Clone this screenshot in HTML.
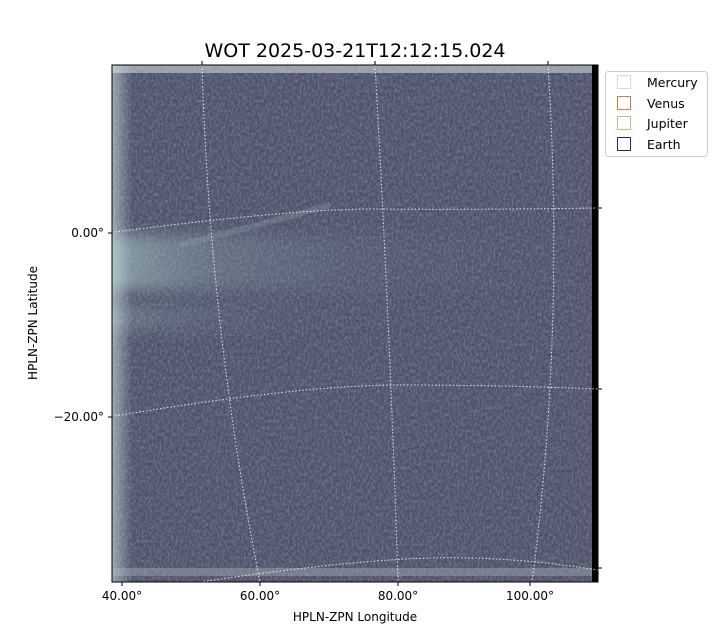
<!DOCTYPE html>
<html><head><style>
body{margin:0;background:#fff;}
svg{display:block;font-family:"DejaVu Sans","Liberation Sans",sans-serif;}
</style></head><body>
<svg width="720" height="640" viewBox="0 0 720 640">
<defs>
<clipPath id="c"><rect x="112" y="65" width="486" height="517"/></clipPath>
<filter id="n" x="0" y="0" width="100%" height="100%">
<feTurbulence type="fractalNoise" baseFrequency="0.5 0.3" numOctaves="3" seed="4" result="t"/>
<feColorMatrix in="t" type="matrix" values="0 0 0 0 0.18  0 0 0 0 0.19  0 0 0 0 0.27  0 0 0 -2.4 1.55"/>
</filter>
<filter id="b" x="-20%" y="-50%" width="140%" height="200%"><feGaussianBlur stdDeviation="7"/></filter>
<linearGradient id="h" x1="0" y1="0" x2="1" y2="0">
<stop offset="0" stop-color="#a8c4c4" stop-opacity="0.7"/>
<stop offset="0.2" stop-color="#8aa4ac" stop-opacity="0.4"/>
<stop offset="0.6" stop-color="#6a7890" stop-opacity="0.1"/>
<stop offset="1" stop-color="#6a7890" stop-opacity="0"/>
</linearGradient>
<linearGradient id="e" x1="0" y1="0" x2="1" y2="0">
<stop offset="0" stop-color="#c8dcdc" stop-opacity="0.6"/>
<stop offset="1" stop-color="#c8dcdc" stop-opacity="0"/>
</linearGradient>
</defs>
<text x="355" y="57" font-size="19" text-anchor="middle">WOT 2025-03-21T12:12:15.024</text>
<g clip-path="url(#c)">
<rect x="112" y="65" width="486" height="517" fill="#4c5269"/>
<rect x="112" y="65" width="486" height="517" fill="#000" filter="url(#n)" opacity="0.85"/>
<g filter="url(#b)">
<rect x="100" y="235" width="500" height="55" fill="url(#h)"/>
<rect x="100" y="305" width="310" height="25" fill="url(#h)" opacity="0.6"/>
</g>
<path d="M180,245 Q260,225 330,205" stroke="#9ab0b8" stroke-width="6" opacity="0.25" fill="none"/>
<rect x="112" y="65" width="20" height="517" fill="url(#e)"/>
<rect x="112" y="65" width="486" height="8" fill="#dfe8e8" opacity="0.5"/>
<rect x="112" y="568" width="486" height="8" fill="#aab8bc" opacity="0.4"/>
</g>
<rect x="592" y="65" width="6" height="517" fill="#000"/>
<g fill="none" stroke="#fff" stroke-width="1" stroke-dasharray="1.5,2" opacity="0.85">
<path d="M115,232 Q300,208 380,209 T598,208"/>
<path d="M115,416 Q300,385 400,385 T598,389"/>
<path d="M200,582 Q350,560 430,558 T598,570"/>
<path d="M202,65 Q210,330 260,582"/>
<path d="M375,65 Q390,330 398,582"/>
<path d="M548,65 Q565,330 532,582"/>
</g>
<rect x="112" y="65" width="486" height="517" fill="none" stroke="#000" stroke-width="1"/>
<g stroke="#000" stroke-width="1">
<line x1="108" y1="233" x2="112" y2="233"/><line x1="108" y1="417" x2="112" y2="417"/>
<line x1="122" y1="582" x2="122" y2="586"/><line x1="260" y1="582" x2="260" y2="586"/>
<line x1="398" y1="582" x2="398" y2="586"/><line x1="530" y1="582" x2="530" y2="586"/>
<line x1="598" y1="208" x2="602" y2="208"/><line x1="598" y1="389" x2="602" y2="389"/><line x1="598" y1="568" x2="602" y2="568"/>
<line x1="202" y1="61" x2="202" y2="65"/><line x1="375" y1="61" x2="375" y2="65"/><line x1="548" y1="61" x2="548" y2="65"/>
</g>
<g font-size="12" fill="#000">
<text x="104" y="237" text-anchor="end">0.00°</text>
<text x="104" y="421" text-anchor="end">−20.00°</text>
<text x="122" y="600" text-anchor="middle">40.00°</text>
<text x="260" y="600" text-anchor="middle">60.00°</text>
<text x="398" y="600" text-anchor="middle">80.00°</text>
<text x="530" y="600" text-anchor="middle">100.00°</text>
<text x="355" y="621" text-anchor="middle">HPLN-ZPN Longitude</text>
<text transform="translate(37,323) rotate(-90)" text-anchor="middle">HPLN-ZPN Latitude</text>
</g>
<rect x="605.5" y="71.5" width="102" height="85" rx="3" fill="#fff" stroke="#ccc"/>
<g fill="none" stroke-width="1">
<rect x="617.5" y="75.5" width="13" height="13" stroke="#d8d8d8"/>
<rect x="617.5" y="96.5" width="13" height="13" stroke="#d08040"/>
<rect x="617.5" y="116.5" width="13" height="13" stroke="#e8b070"/>
<rect x="617.5" y="137.5" width="13" height="13" stroke="#202080"/>
</g>
<g font-size="12.5" fill="#000">
<text x="647" y="87">Mercury</text>
<text x="647" y="108">Venus</text>
<text x="647" y="128">Jupiter</text>
<text x="647" y="149">Earth</text>
</g>
</svg>
</body></html>
